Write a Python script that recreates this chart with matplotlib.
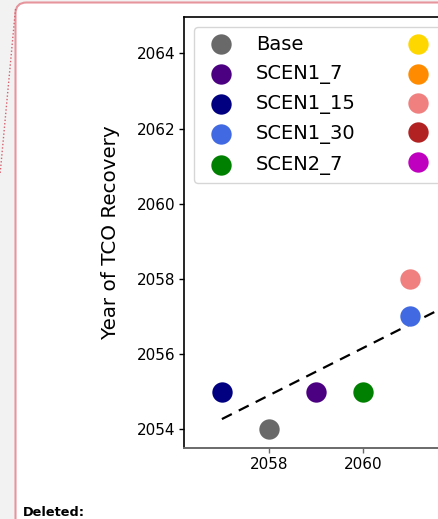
import matplotlib
matplotlib.use("Agg")
import matplotlib.pyplot as plt
from matplotlib.patches import Rectangle, FancyBboxPatch
from matplotlib.lines import Line2D
from matplotlib.transforms import Affine2D

# ---- data ----
scenarios = ["Base", "SCEN1_7", "SCEN1_15", "SCEN1_30", "SCEN2_7",
             " ", " ", " ", " ", " "]   # right legend column is cut off in the reference
x_year = [2058, 2059, 2057, 2061, 2060, 2063, 2064, 2061, 2065, 2066]
y_recovery = [2054, 2055, 2055, 2057, 2055, 2059, 2060, 2058, 2061, 2062]
colors = ["dimgray", "indigo", "navy", "royalblue", "green",
          "gold", "darkorange", "lightcoral", "firebrick", "m"]
trend_x = [2057, 2066]
trend_y = [2054.27, 2059.94]
yticks = [2054, 2056, 2058, 2060, 2062, 2064]
xticks = [2058, 2060]

W, H = 438, 519
fig = plt.figure(figsize=(W / 100, H / 100), dpi=100)
fig.patch.set_facecolor("white")
pxT = Affine2D().scale(1 / W, -1 / H).translate(0, 1) + fig.transFigure

# page background and comment balloon
fig.add_artist(Rectangle((0, 0), W, H, transform=pxT, facecolor="#f2f2f2",
                         edgecolor="none", zorder=-10))
fig.add_artist(FancyBboxPatch((15.5, 2.5), W + 40, H + 40,
                              boxstyle="round,pad=0,rounding_size=11",
                              transform=pxT, facecolor="white",
                              edgecolor="#e6959d", linewidth=1.5, zorder=-9))
fig.add_artist(Line2D([15.5, 0], [9, 175], transform=pxT, color="#d65f6d",
                      linewidth=1.0, linestyle=(0, (1, 1.5)), zorder=-8))
fig.text(23 / W, 1 - 516.5 / H, "Deleted:", fontsize=9.3, fontweight="bold",
         ha="left", va="baseline", color="black")

# axes
left, top, bottom = 184.3, 17, 448
xmin, ppu_x = 2056.2, 47.0
xmax = 2067.0
width = (xmax - xmin) * ppu_x
ax = fig.add_axes([left / W, 1 - bottom / H, width / W, (bottom - top) / H])
ax.set_xlim(xmin, xmax)
ax.set_ylim(2053.5, 2064.97)

handles = []
for xv, yv, c in zip(x_year, y_recovery, colors):
    handles.append(ax.scatter([xv], [yv], s=215, color=c, linewidths=0, zorder=3))
ax.plot(trend_x, trend_y, color="black", linestyle="--", linewidth=1.6,
        dashes=(5, 3.5), zorder=2)

ax.set_xticks(xticks)
ax.set_yticks(yticks)
ax.tick_params(labelsize=11, length=3.5, width=1, pad=3)
ax.tick_params(axis="x", color="#6a6a6a")
ax.set_ylabel("Year of TCO Recovery", fontsize=14.3, labelpad=12)
for s in ["left", "top", "right"]:
    ax.spines[s].set_color("black")
    ax.spines[s].set_linewidth(1.2)
ax.spines["bottom"].set_color("#6a6a6a")
ax.spines["bottom"].set_linewidth(1.4)

ax.legend(handles, scenarios, loc="upper left", ncol=2, fontsize=14,
          frameon=True, columnspacing=2.2, labelspacing=0.53)

fig.savefig("out.png", dpi=100)
